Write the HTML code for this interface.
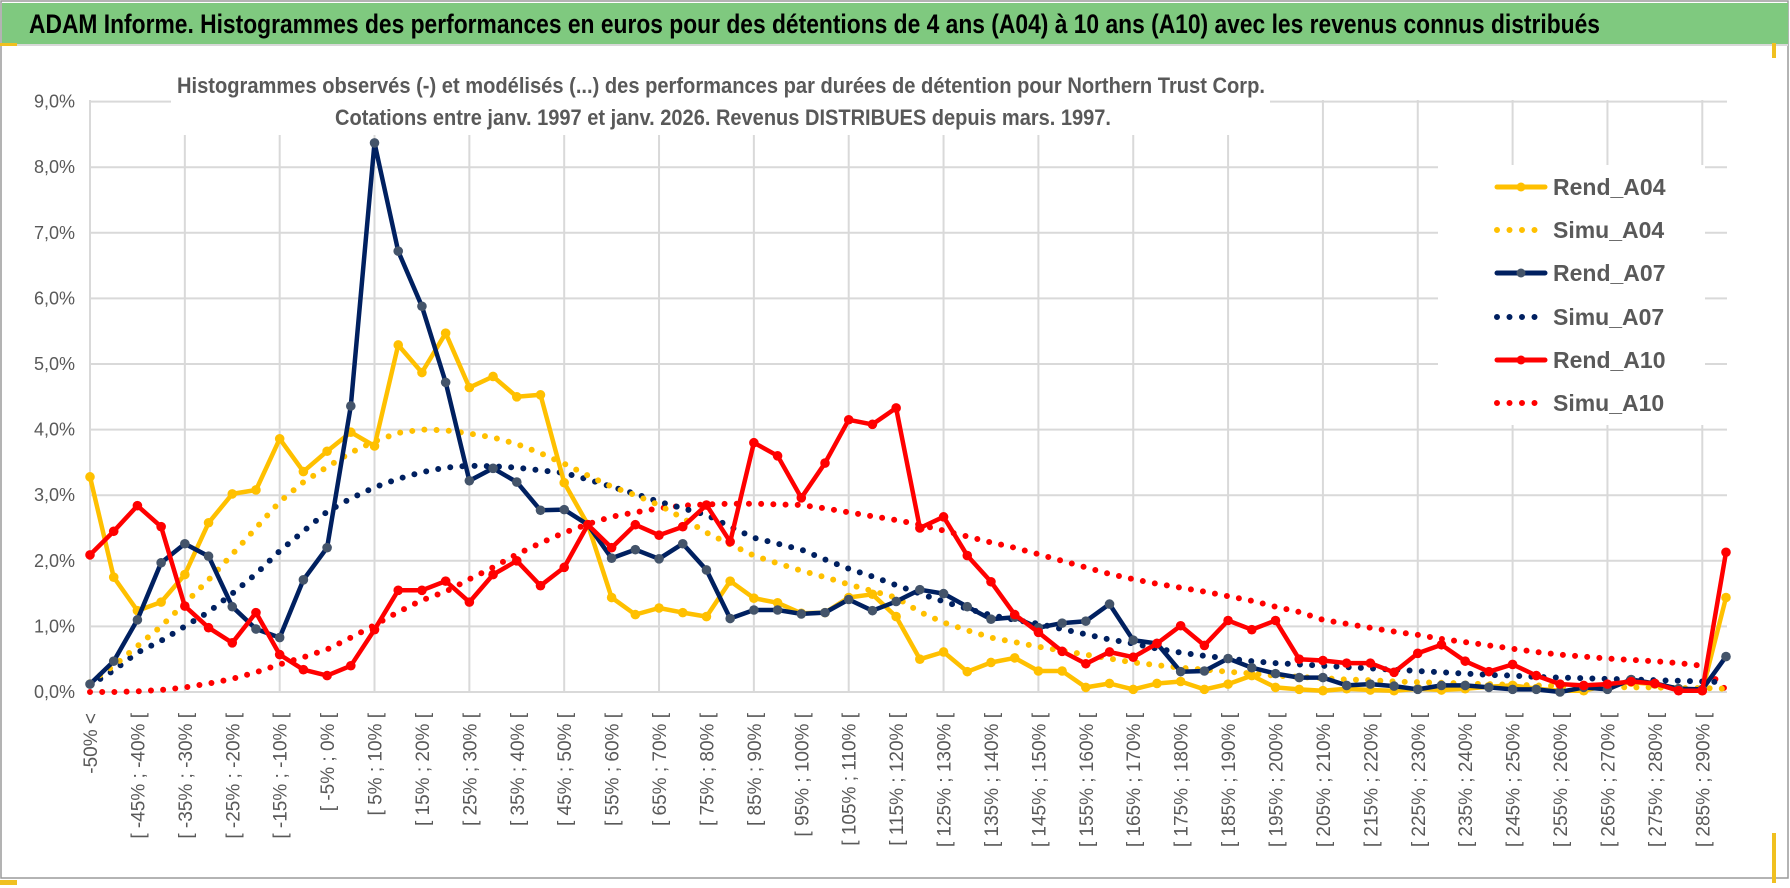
<!DOCTYPE html>
<html><head><meta charset="utf-8">
<style>
html,body{margin:0;padding:0;background:#fff;}
svg{display:block;}
text{font-family:"Liberation Sans Narrow","Liberation Sans",sans-serif;}
</style></head>
<body>
<svg id="chart" width="1790" height="888" viewBox="0 0 1790 888" xmlns="http://www.w3.org/2000/svg">
  <rect x="0" y="0" width="1790" height="888" fill="#fff"/>
  <rect x="1" y="1" width="1787" height="877" fill="none" stroke="#9a9a9a" stroke-width="1.5"/>
  <rect x="2" y="3" width="1786" height="41" fill="#7fc97f"/>
  <line x1="2" y1="45" x2="1788" y2="45" stroke="#d8d8d8" stroke-width="2"/>
  <rect x="0" y="43" width="17" height="3" fill="#f0c020"/>
  <rect x="0" y="880" width="17" height="5" fill="#f0c020"/>
  <rect x="1772" y="833" width="4" height="50" fill="#f0c020"/>
  <rect x="1772" y="43" width="4" height="15" fill="#f0c020"/>
  <text x="29" y="33" font-size="27" font-weight="bold" fill="#000" textLength="1571" lengthAdjust="spacingAndGlyphs">ADAM Informe. Histogrammes des performances en euros pour des détentions de 4 ans (A04) à 10 ans (A10) avec les revenus connus distribués</text>
  <g id="grid"></g>
  <rect x="171" y="60" width="1099" height="75" fill="#fff"/>
  <text x="177" y="93" font-size="22" font-weight="bold" fill="#595959" textLength="1088" lengthAdjust="spacingAndGlyphs">Histogrammes observés (-) et modélisés (...) des performances par durées de détention pour Northern Trust Corp.</text>
  <text x="335" y="125" font-size="22" font-weight="bold" fill="#595959" textLength="776" lengthAdjust="spacingAndGlyphs">Cotations entre janv. 1997 et janv. 2026. Revenus DISTRIBUES depuis mars. 1997.</text>
  <g id="yticks"></g>
  <g id="xticks"></g>
  <g id="series"></g>
  <g>
    <rect x="1438" y="165" width="267" height="260" fill="#fff"/>
    <g>
      <line x1="1497" y1="187" x2="1545" y2="187" stroke="#FFC000" stroke-width="5" stroke-linecap="round"/>
      <circle cx="1521" cy="187" r="4.5" fill="#FFC000"/>
      <text x="1553" y="195" font-size="23" font-weight="bold" fill="#595959">Rend_A04</text>
    </g>
    <g>
      <line x1="1497" y1="230" x2="1545" y2="230" stroke="#FFC000" stroke-width="6" stroke-linecap="round" stroke-dasharray="0 12.5"/>
      <text x="1553" y="238" font-size="23" font-weight="bold" fill="#595959">Simu_A04</text>
    </g>
    <g>
      <line x1="1497" y1="273" x2="1545" y2="273" stroke="#002060" stroke-width="5" stroke-linecap="round"/>
      <circle cx="1521" cy="273" r="4.5" fill="#44546A"/>
      <text x="1553" y="281" font-size="23" font-weight="bold" fill="#595959">Rend_A07</text>
    </g>
    <g>
      <line x1="1497" y1="317" x2="1545" y2="317" stroke="#002060" stroke-width="6" stroke-linecap="round" stroke-dasharray="0 12.5"/>
      <text x="1553" y="325" font-size="23" font-weight="bold" fill="#595959">Simu_A07</text>
    </g>
    <g>
      <line x1="1497" y1="360" x2="1545" y2="360" stroke="#FF0000" stroke-width="5" stroke-linecap="round"/>
      <circle cx="1521" cy="360" r="4.5" fill="#FF0000"/>
      <text x="1553" y="368" font-size="23" font-weight="bold" fill="#595959">Rend_A10</text>
    </g>
    <g>
      <line x1="1497" y1="403" x2="1545" y2="403" stroke="#FF0000" stroke-width="6" stroke-linecap="round" stroke-dasharray="0 12.5"/>
      <text x="1553" y="411" font-size="23" font-weight="bold" fill="#595959">Simu_A10</text>
    </g>
  </g>
</svg>
<script>
const yTicks = [0,1,2,3,4,5,6,7,8,9];
const rendA04 = [3.28,1.75,1.24,1.37,1.79,2.58,3.02,3.08,3.86,3.36,3.67,3.96,3.75,5.29,4.87,5.47,4.64,4.81,4.50,4.53,3.19,2.55,1.44,1.18,1.28,1.21,1.15,1.69,1.43,1.36,1.20,1.21,1.44,1.49,1.15,0.50,0.61,0.31,0.45,0.52,0.32,0.32,0.07,0.13,0.04,0.13,0.16,0.04,0.12,0.25,0.07,0.04,0.02,0.05,0.03,0.02,0.05,0.03,0.05,0.08,0.10,0.05,0.02,0.02,0.10,0.15,0.12,0.05,0.02,1.44];
const simuA04 = [0.15,0.4,0.7,1.0,1.35,1.71,2.1,2.5,2.9,3.2,3.43,3.65,3.82,3.95,4.0,3.99,3.94,3.88,3.78,3.64,3.48,3.3,3.13,3.0,2.85,2.65,2.43,2.25,2.08,1.96,1.85,1.75,1.64,1.54,1.44,1.22,1.06,0.94,0.83,0.76,0.69,0.63,0.57,0.51,0.45,0.41,0.37,0.34,0.31,0.28,0.25,0.23,0.21,0.19,0.18,0.16,0.15,0.14,0.13,0.12,0.11,0.10,0.09,0.08,0.08,0.07,0.07,0.06,0.06,0.05];
const rendA07 = [0.12,0.47,1.10,1.97,2.26,2.07,1.30,0.96,0.83,1.71,2.20,4.36,8.37,6.72,5.88,4.72,3.22,3.41,3.20,2.77,2.78,2.55,2.04,2.17,2.03,2.26,1.86,1.12,1.25,1.25,1.19,1.21,1.41,1.24,1.38,1.56,1.50,1.30,1.11,1.14,0.98,1.05,1.08,1.34,0.79,0.74,0.31,0.32,0.51,0.37,0.28,0.22,0.22,0.10,0.12,0.09,0.04,0.10,0.10,0.07,0.04,0.04,0.00,0.07,0.04,0.19,0.13,0.05,0.04,0.54];
const simuA07 = [0.1,0.33,0.6,0.78,1.0,1.22,1.5,1.8,2.15,2.45,2.75,2.95,3.12,3.25,3.35,3.42,3.45,3.44,3.42,3.38,3.34,3.24,3.13,3.02,2.9,2.8,2.7,2.52,2.35,2.26,2.17,2.02,1.88,1.76,1.63,1.5,1.38,1.27,1.17,1.1,1.04,0.96,0.88,0.8,0.74,0.66,0.6,0.55,0.51,0.47,0.44,0.42,0.4,0.38,0.36,0.34,0.32,0.3,0.28,0.26,0.25,0.23,0.22,0.21,0.2,0.19,0.18,0.17,0.16,0.15];
const rendA10 = [2.09,2.45,2.84,2.52,1.31,0.98,0.75,1.21,0.57,0.34,0.25,0.40,0.95,1.55,1.55,1.69,1.37,1.79,2.00,1.62,1.90,2.55,2.20,2.55,2.39,2.52,2.85,2.29,3.80,3.60,2.96,3.49,4.15,4.08,4.33,2.50,2.67,2.08,1.68,1.18,0.91,0.62,0.43,0.61,0.53,0.74,1.01,0.71,1.09,0.95,1.09,0.50,0.48,0.44,0.44,0.30,0.59,0.72,0.47,0.31,0.42,0.25,0.12,0.10,0.12,0.16,0.13,0.02,0.02,2.13];
const simuA10 = [0,0,0.01,0.03,0.07,0.13,0.2,0.3,0.42,0.53,0.65,0.83,1.02,1.22,1.4,1.53,1.72,1.9,2.1,2.27,2.43,2.56,2.67,2.74,2.8,2.84,2.86,2.87,2.87,2.86,2.85,2.8,2.74,2.68,2.62,2.55,2.46,2.37,2.28,2.2,2.1,2.0,1.9,1.8,1.72,1.65,1.59,1.53,1.46,1.39,1.3,1.22,1.1,1.04,0.98,0.92,0.87,0.81,0.76,0.71,0.66,0.61,0.57,0.54,0.51,0.49,0.47,0.44,0.4,0.03];

const NS = "http://www.w3.org/2000/svg";
const N = rendA04.length;
const X0 = 90, STEP = 23.71, Y0 = 692, YU = 65.6;
function xs(i){ return X0 + i*STEP; }
function ys(v){ return Y0 - v*YU; }
function mk(tag, attrs, parent){ const e=document.createElementNS(NS,tag); for(const k in attrs) e.setAttribute(k,attrs[k]); parent.appendChild(e); return e; }

const catLabels = [];
for(let i=0;i<N;i++){
  if(i===0) catLabels.push("-50% <");
  else if(i%2===0 && i<=68){ const lo=-50+(i-1)*5; catLabels.push("[ "+lo+"% ; "+(lo+5)+"% ["); }
  else catLabels.push("");
}

const grid = document.getElementById('grid');
yTicks.forEach(t=>{
  const l = mk('line',{x1:X0,x2:1727,y1:ys(t),y2:ys(t),stroke:'#d9d9d9','stroke-width':2},grid);
  
  
});
for(let i=0;i<N;i+=4){
  const l = mk('line',{x1:xs(i),x2:xs(i),y1:100,y2:Y0,stroke:'#d9d9d9','stroke-width':2},grid);
  
  
}
const yt = document.getElementById('yticks');
yTicks.forEach(t=>{
  const tx = mk('text',{x:75,y:ys(t)+6,'text-anchor':'end','font-size':18,fill:'#595959'},yt);
  tx.textContent = t.toFixed(1).replace('.',',')+'%';
  
  
});
const xt = document.getElementById('xticks');
catLabels.forEach((lab,i)=>{
  if(!lab) return;
  const x = xs(i)+7, y = 713;
  const tx = mk('text',{x:x,y:y,'text-anchor':'end','font-size':19,fill:'#595959',transform:'rotate(-90 '+x+' '+y+')'},xt);
  tx.textContent = lab;
  
  
});

const sg = document.getElementById('series');
function pts(arr){ return arr.map((v,i)=>xs(i).toFixed(1)+','+ys(v).toFixed(1)).join(' '); }
function dotted(arr,color,name){
  const p = mk('polyline',{points:pts(arr),fill:'none',stroke:color,'stroke-width':6,'stroke-linecap':'round','stroke-linejoin':'round','stroke-dasharray':'0 12.2'},sg);
  
  
}
function solid(arr,color,mcol,name){
  const p = mk('polyline',{points:pts(arr),fill:'none',stroke:color,'stroke-width':4.5,'stroke-linejoin':'round'},sg);
  
  
  arr.forEach((v,i)=>{
    const c = mk('circle',{cx:xs(i),cy:ys(v),r:4.8,fill:mcol},sg);
    
    
  });
}
dotted(simuA10,'#FF0000','simu-a10-line');
dotted(simuA07,'#002060','simu-a07-line');
dotted(simuA04,'#FFC000','simu-a04-line');
solid(rendA04,'#FFC000','#FFC000','rend-a04-line');
solid(rendA07,'#002060','#44546A','rend-a07-line');
solid(rendA10,'#FF0000','#FF0000','rend-a10-line');
</script>
</body></html>
